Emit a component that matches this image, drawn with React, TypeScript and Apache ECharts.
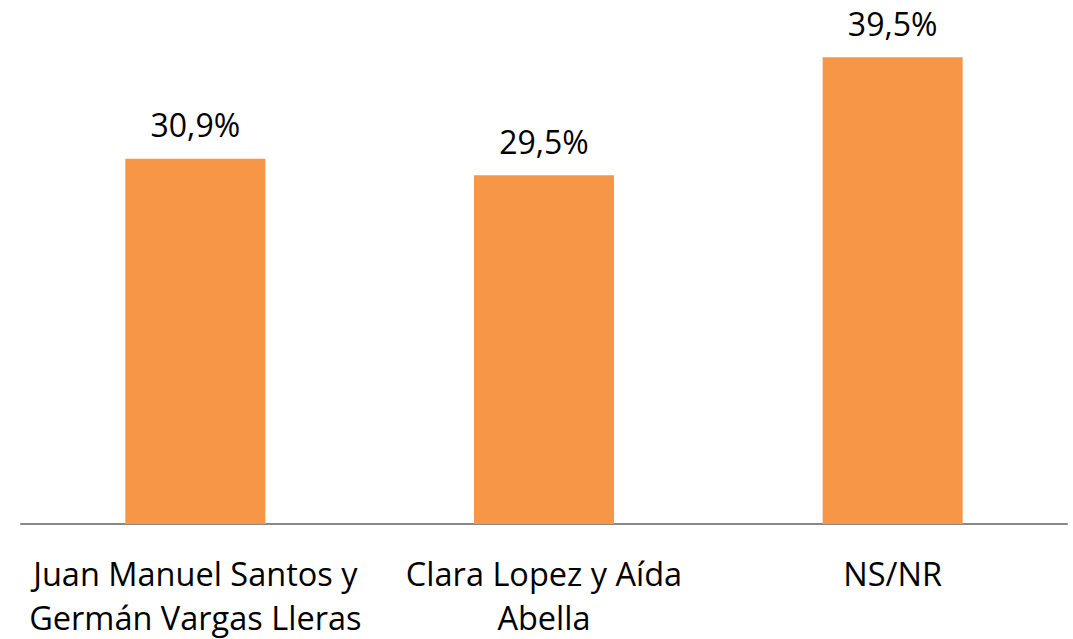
import React, { useEffect, useRef } from "react";
import * as echarts from "echarts";

const categories = ["Juan Manuel Santos y\nGermán Vargas Lleras", "Clara Lopez y Aída\nAbella", "NS/NR"];
const values = [30.9, 29.5, 39.5];

export default function App() {
  const ref = useRef<HTMLDivElement>(null);
  useEffect(() => {
    if (!ref.current) return;
    const chart = echarts.init(ref.current, null, { renderer: "svg" });
    chart.setOption({
      animation: false,
      grid: { left: 21, right: 6, top: 4, bottom: 114, containLabel: false },
      xAxis: {
        type: "category",
        data: categories,
        axisLine: { show: true, lineStyle: { color: "#898989", width: 2 } },
        axisTick: { show: false },
        axisLabel: {
          interval: 0,
          color: "#000",
          fontFamily: "Open Sans",
          fontSize: 32.5,
          lineHeight: 44,
          margin: 27,
        },
      },
      yAxis: {
        type: "value",
        min: 0,
        max: 44,
        show: false,
        splitLine: { show: false },
      },
      series: [
        {
          type: "bar",
          data: values,
          barWidth: 140,
          itemStyle: { color: "#F79646" },
          label: {
            show: true,
            position: "top",
            distance: 18,
            color: "#000",
            fontFamily: "Open Sans",
            fontSize: 32,
            formatter: (p: any) => p.value.toFixed(1).replace(".", ",") + "%",
          },
        },
      ],
    });
    return () => chart.dispose();
  }, []);
  return <div ref={ref} style={{ position: "fixed", left: 0, top: 0, width: 1073, height: 639, background: "#fff" }} />;
}
